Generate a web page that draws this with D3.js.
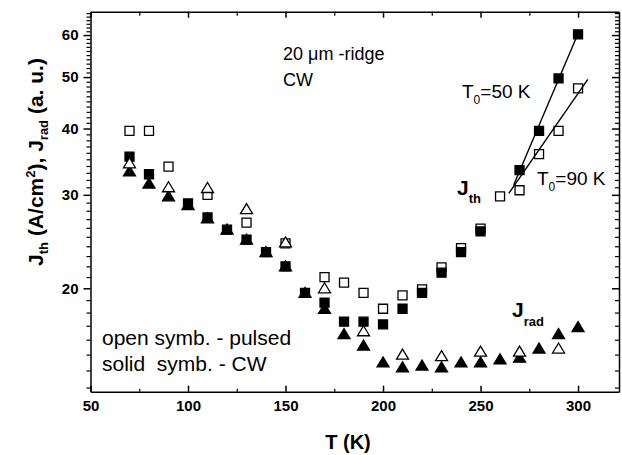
<!DOCTYPE html>
<html lang="en">
<head>
<meta charset="UTF-8">
<script src="https://d3js.org/d3.v7.min.js"></script>
<title>Jth and Jrad vs T</title>
<style>
  body { margin: 0; background: #fff; }
  svg text { font-family: "Liberation Sans", Arial, sans-serif; fill: #000; }
  .tick text { font-weight: bold; font-size: 15px; }
  .domain, .tick line { stroke: #000; stroke-width: 1.5px; }
  .minor .domain { display: none; }
  .minor .tick line { stroke-width: 1.2px; }
</style>
</head>
<body>
<svg></svg>
<script>
  const WIDTH = 622
  const HEIGHT = 455

  // J_th, open squares = pulsed, solid squares = CW
  const pulsedThT = [70, 80, 90, 110, 130, 150, 170, 180, 190, 200, 210, 220, 230, 240, 250, 260, 270, 280, 290, 300]
  const pulsedTh = [39.6, 39.6, 33.9, 30.0, 26.6, 24.3, 21.0, 20.5, 19.6, 18.3, 19.4, 19.9, 21.9, 23.8, 25.9, 29.8, 30.6, 35.8, 39.6, 47.6]
  const cwThT = [70, 80, 100, 110, 120, 130, 140, 150, 160, 170, 180, 190, 200, 210, 220, 230, 240, 250, 270, 280, 290, 300]
  const cwTh = [35.4, 32.8, 28.9, 27.2, 25.8, 24.7, 23.4, 22.0, 19.6, 18.8, 17.3, 17.3, 17.1, 18.3, 19.6, 21.4, 23.4, 25.6, 33.4, 39.6, 49.7, 60.2]

  // J_rad, open triangles = pulsed, solid triangles = CW
  const pulsedRadT = [70, 90, 110, 130, 150, 170, 190, 210, 230, 250, 270, 290]
  const pulsedRad = [34.4, 31.0, 30.9, 28.2, 24.4, 20.0, 16.6, 15.0, 14.9, 15.2, 15.2, 15.4]
  const cwRadT = [70, 80, 90, 100, 110, 120, 130, 140, 150, 160, 170, 180, 190, 200, 210, 220, 230, 240, 250, 260, 270, 280, 290, 300]
  const cwRad = [33.2, 31.5, 29.8, 28.7, 27.1, 25.8, 24.7, 23.4, 22.0, 19.6, 18.3, 16.4, 15.6, 14.5, 14.2, 14.3, 14.2, 14.5, 14.5, 14.7, 14.8, 15.4, 16.4, 16.9]

  // exponential fits (T0 = 50 K for CW, T0 = 90 K for pulsed)
  const fit50T = [267, 300.5]
  const fit50J = [31.3, 61]
  const fit90T = [264.5, 305]
  const fit90J = [30.2, 49.5]

  const xTicks = [50, 100, 150, 200, 250, 300]
  const xMinor = [75, 125, 175, 225, 275]
  const yTicks = [20, 30, 40, 50, 60]
  const yMinor = d3.range(13, 67).filter(v => !yTicks.includes(v))

  const svg = d3.select('svg')
    .attr('width', WIDTH)
    .attr('height', HEIGHT)

  const x = d3.scaleLinear().domain([50, 321]).range([90.5, 619])
  const y = d3.scaleLog().domain([12.77, 66.4]).range([391.7, 11.7])
  const [x0, x1] = x.range()
  const [y0, y1] = y.range()

  // axes: left ticks out, the other three in
  svg.append('g').attr('transform', `translate(${x0},0)`)
    .call(d3.axisLeft(y).tickValues(yTicks).tickFormat(d3.format('d')).tickSize(7).tickSizeOuter(0).tickPadding(5))
  svg.append('g').attr('class', 'minor').attr('transform', `translate(${x0},0)`)
    .call(d3.axisLeft(y).tickValues(yMinor).tickFormat('').tickSize(4))
  svg.append('g').attr('transform', `translate(${x1},0)`)
    .call(d3.axisRight(y).tickValues(yTicks).tickFormat('').tickSize(-7).tickSizeOuter(0))
  svg.append('g').attr('class', 'minor').attr('transform', `translate(${x1},0)`)
    .call(d3.axisRight(y).tickValues(yMinor).tickFormat('').tickSize(-4))

  svg.append('g').attr('transform', `translate(0,${y0})`)
    .call(d3.axisBottom(x).tickValues(xTicks).tickSize(-6).tickSizeOuter(0).tickPadding(9))
  svg.append('g').attr('class', 'minor').attr('transform', `translate(0,${y0})`)
    .call(d3.axisBottom(x).tickValues(xMinor).tickFormat('').tickSize(-3))
  svg.append('g').attr('transform', `translate(0,${y1})`)
    .call(d3.axisTop(x).tickValues(xTicks).tickFormat('').tickSize(-6).tickSizeOuter(0))
  svg.append('g').attr('class', 'minor').attr('transform', `translate(0,${y1})`)
    .call(d3.axisTop(x).tickValues(xMinor).tickFormat('').tickSize(-4))

  // fit lines
  const line = d3.line().x(d => x(d[0])).y(d => y(d[1]))
  svg.append('g').selectAll('path')
    .data([d3.zip(fit50T, fit50J), d3.zip(fit90T, fit90J)])
    .enter().append('path')
    .attr('d', line)
    .attr('fill', 'none')
    .attr('stroke', '#000')
    .attr('stroke-width', 1.4)

  const square = d3.symbol().type(d3.symbolSquare).size(81)()
  const triangle = 'M0,-5.5L6,4.5L-6,4.5Z'

  function drawSeries (ts, vs, path, fill) {
    svg.append('g').selectAll('path')
      .data(d3.zip(ts, vs))
      .enter().append('path')
      .attr('d', path)
      .attr('transform', d => `translate(${x(d[0])},${y(d[1])})`)
      .attr('fill', fill)
      .attr('stroke', '#000')
      .attr('stroke-width', 1.3)
  }

  drawSeries(cwThT, cwTh, square, '#000')
  drawSeries(cwRadT, cwRad, triangle, '#000')
  drawSeries(pulsedThT, pulsedTh, square, 'none')
  drawSeries(pulsedRadT, pulsedRad, triangle, '#fff')

  // text with sub/superscripts
  function label (px, py, parts, size, weight, anchor) {
    const t = svg.append('text')
      .attr('x', px).attr('y', py)
      .attr('font-size', size)
      .attr('font-weight', weight || 'normal')
      .attr('text-anchor', anchor || 'start')
    parts.forEach(p => {
      t.append('tspan')
        .attr('dy', p.dy || 0)
        .attr('font-size', p.size || size)
        .text(p.t)
    })
    return t
  }

  label(283, 60, [{ t: '20 \u03bcm -ridge' }], 18)
  label(283, 86, [{ t: 'CW' }], 18)
  label(462, 98, [{ t: 'T' }, { t: '0', size: 12, dy: 6 }, { t: '=50 K', dy: -6 }], 19)
  label(537, 185, [{ t: 'T' }, { t: '0', size: 12, dy: 6 }, { t: '=90 K', dy: -6 }], 19)
  label(457, 195, [{ t: 'J' }, { t: 'th', size: 13, dy: 8 }], 21, 'bold')
  label(512, 317, [{ t: 'J' }, { t: 'rad', size: 13, dy: 9 }], 21, 'bold')
  label(102, 345, [{ t: 'open symb. - pulsed' }], 21)
  label(102, 371, [{ t: 'solid\u00a0 symb. - CW' }], 21)

  label(348, 449, [{ t: 'T (K)' }], 20, 'bold', 'middle')

  label(0, 0, [
    { t: 'J' }, { t: 'th', size: 13, dy: 5 },
    { t: ' (A/cm', dy: -5 }, { t: '2', size: 13, dy: -8 },
    { t: '), J', dy: 8 }, { t: 'rad', size: 13, dy: 5 },
    { t: ' (a. u.)', dy: -5 }
  ], 21, 'bold', 'middle')
    .attr('transform', 'translate(43,162) rotate(-90)')
</script>
</body>
</html>
